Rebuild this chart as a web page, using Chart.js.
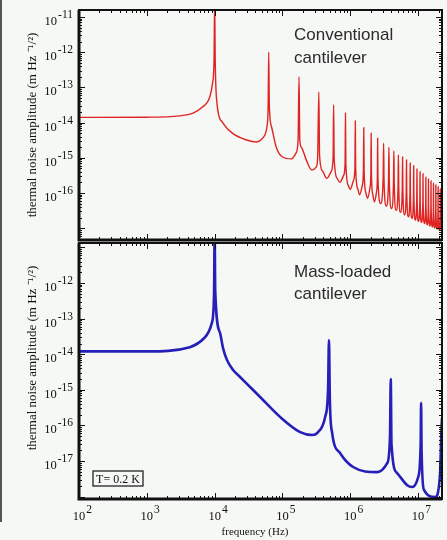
<!DOCTYPE html>
<html>
<head>
<meta charset="utf-8">
<script src="https://cdn.jsdelivr.net/npm/chart.js@4.4.1/dist/chart.umd.min.js"></script>
<style>
  body { margin: 0; background: #f5f8f4; width: 447px; height: 540px; overflow: hidden; position: relative; }
  canvas { position: absolute; left: 0; }
  #edge { position: absolute; left: 0; top: 0; width: 2px; height: 522px; background: #555; }
</style>
</head>
<body>
<div id="edge"></div>
<canvas id="topChart" width="447" height="250" style="top:0"></canvas>
<canvas id="bottomChart" width="447" height="307" style="top:233px"></canvas>
<script>
// decade tick values (labelled ones)
const freqDecades = [1e2, 1e3, 1e4, 1e5, 1e6, 1e7];
const topDecades = [1e-11, 1e-12, 1e-13, 1e-14, 1e-15, 1e-16];
const bottomDecades = [1e-12, 1e-13, 1e-14, 1e-15, 1e-16, 1e-17];

// conventional cantilever, [frequency Hz, amplitude]
const conventionalCurve = [
  [100, 1.40e-14], [1000, 1.42e-14], [3000, 1.55e-14], [4800, 1.86e-14], [6600, 2.75e-14],
  [8500, 5.4e-14], [9300, 1.3e-13], [9800, 6e-13], [10000, 3e-11], [10200, 6e-13],
  [10700, 4.4e-14], [13200, 9.8e-15], [18200, 5.0e-15], [29500, 3.2e-15], [41700, 2.8e-15],
  [51000, 3.6e-15], [59000, 7.6e-15], [61500, 3.0e-14], [62700, 1.0e-12], [64000, 3.0e-14],
  [69000, 7.6e-15], [81000, 2.0e-15], [100000, 1.05e-15], [135000, 9.3e-16], [158000, 1.35e-15],
  [170000, 3.2e-15], [175500, 2.0e-13], [180000, 3.2e-15], [190000, 2.0e-15],
  [224000, 8.7e-16], [270000, 4.5e-16], [316000, 5.5e-16], [330000, 1.05e-15], [344000, 7.4e-14], [352000, 1.2e-15],
  [390000, 4.2e-16], [450000, 2.6e-16], [520000, 4.0e-16], [558000, 1.0e-15], [568000, 3.2e-14], [578000, 1.0e-15],
  [640000, 2.6e-16], [700000, 2.0e-16], [800000, 3.2e-16], [838000, 7e-16], [849000, 1.86e-14], [860000, 7e-16],
  [940000, 1.6e-16], [1.0e6, 1.26e-16], [1.11e6, 2.2e-16], [1.17e6, 5e-16], [1.186e6, 1.12e-14], [1.2e6, 5e-16],
  [1.29e6, 1.3e-16], [1.37e6, 8.9e-17], [1.5e6, 1.6e-16], [1.56e6, 4e-16], [1.58e6, 7.1e-15], [1.6e6, 4e-16],
  [1.7e6, 1.0e-16], [1.8e6, 7.1e-17], [1.95e6, 1.4e-16], [2.01e6, 3.5e-16], [2.03e6, 5.0e-15], [2.05e6, 3.5e-16],
  [2.15e6, 9e-17], [2.27e6, 5.6e-17], [2.44e6, 1.1e-16], [2.51e6, 3e-16], [2.53e6, 3.6e-15], [2.555e6, 3e-16],
  [2.8e6, 5.0e-17], [3.05e6, 2.5e-16], [3.1e6, 2.6e-15], [3.14e6, 2.5e-16],
  [3.4e6, 4.2e-17], [3.66e6, 2.2e-16], [3.71e6, 2.0e-15], [3.76e6, 2.2e-16],
  [4.05e6, 3.6e-17], [4.33e6, 1.8e-16], [4.39e6, 1.55e-15], [4.45e6, 1.8e-16],
  [4.75e6, 3.2e-17], [5.06e6, 1.5e-16], [5.12e6, 1.2e-15], [5.18e6, 1.5e-16],
  [5.5e6, 2.8e-17], [5.84e6, 1.3e-16], [5.9e6, 1.05e-15], [5.96e6, 1.3e-16],
  [6.3e6, 2.4e-17], [6.68e6, 1.1e-16], [6.74e6, 8.7e-16], [6.8e6, 1.1e-16],
  [7.2e6, 2.1e-17], [7.58e6, 9.5e-17], [7.64e6, 7.1e-16], [7.7e6, 9.5e-17],
  [8.1e6, 1.9e-17], [8.54e6, 8e-17], [8.6e6, 5.9e-16], [8.66e6, 8e-17],
  [9.1e6, 1.7e-17], [9.55e6, 7e-17], [9.61e6, 4.8e-16], [9.67e6, 7e-17],
  [1.01e7, 1.55e-17], [1.061e7, 6e-17], [1.067e7, 4.0e-16], [1.073e7, 6e-17],
  [1.12e7, 1.45e-17], [1.174e7, 5.4e-17], [1.18e7, 3.5e-16], [1.186e7, 5.4e-17],
  [1.24e7, 1.35e-17], [1.294e7, 4.8e-17], [1.30e7, 2.8e-16], [1.306e7, 4.8e-17],
  [1.36e7, 1.25e-17], [1.414e7, 4.4e-17], [1.42e7, 2.5e-16], [1.426e7, 4.4e-17],
  [1.485e7, 1.15e-17], [1.544e7, 4e-17], [1.55e7, 2.2e-16], [1.556e7, 4e-17],
  [1.62e7, 1.07e-17], [1.679e7, 3.6e-17], [1.685e7, 1.9e-16], [1.691e7, 3.6e-17],
  [1.755e7, 1.0e-17], [1.819e7, 3.3e-17], [1.825e7, 1.7e-16], [1.831e7, 3.3e-17],
  [1.9e7, 9.5e-18], [1.964e7, 3.0e-17], [1.97e7, 1.5e-16], [1.976e7, 3.0e-17],
  [2.04e7, 9e-18], [2.114e7, 2.8e-17], [2.12e7, 1.3e-16], [2.126e7, 2.8e-17],
  [2.2e7, 8.5e-18], [2.26e7, 1.5e-17]
];

// mass-loaded cantilever
const massLoadedCurve = [
  [100, 1.2e-14], [1000, 1.2e-14], [4300, 1.58e-14], [7100, 2.9e-14], [9100, 7.6e-14],
  [9800, 5e-13], [10000, 3e-11], [10200, 6e-13], [12000, 4.0e-14], [13300, 1.48e-14],
  [15200, 6.9e-15], [18700, 3.6e-15], [23700, 2.3e-15], [33300, 1.2e-15], [46800, 6.3e-16],
  [92000, 1.74e-16], [182000, 6.5e-17], [275000, 5.4e-17],
  [327000, 6.2e-17], [426000, 1.74e-16], [470000, 1.0e-15], [485000, 2.5e-14], [500000, 5e-16],
  [540000, 6.2e-17], [710000, 1.66e-17], [1.1e6, 6.8e-18], [2.5e6, 4.9e-18], [3.5e6, 8.7e-18],
  [3.85e6, 5e-17], [3.95e6, 2.0e-15], [4.05e6, 3e-17], [4.9e6, 4.6e-18], [6.9e6, 2.1e-18],
  [8.15e6, 1.86e-18], [1.0e7, 3.5e-18], [1.09e7, 3e-17], [1.107e7, 4.3e-16], [1.125e7, 2e-17],
  [1.22e7, 1.55e-18], [1.78e7, 9.8e-19], [2.1e7, 4e-18], [2.2e7, 6e-17], [2.25e7, 1.6e-16]
];

const serif = "'Liberation Serif', 'Times New Roman', serif";

// inward minor/major ticks
function logMarks(min, max, cb)
{
	for (let d = Math.floor(Math.log10(min)); d <= Math.ceil(Math.log10(max)); d++)
		for (let k = 1; k <= 9; k++)
		{
			let v = k * Math.pow(10, d);
			if (v >= min && v <= max) cb(v, k === 1);
		}
}

// "10" with a raised exponent, placed at the scale's own tick pixels
function powLabels(ctx, scale, horizontal)
{
	ctx.fillStyle = '#111';
	ctx.textBaseline = 'alphabetic';
	ctx.textAlign = 'left';
	for (const t of scale.ticks)
	{
		let p = scale.getPixelForValue(t.value);
		let exp = String(Math.round(Math.log10(t.value)));
		ctx.font = '12.5px ' + serif;
		let w10 = ctx.measureText('10').width;
		ctx.font = '11.5px ' + serif;
		let we = ctx.measureText(exp).width;
		let x10, y10;
		if (horizontal) { x10 = p - w10 / 2; y10 = scale.top + 21; }
		else { x10 = scale.right - 6 - we - w10 - 1; y10 = p + 8; }
		ctx.font = '12.5px ' + serif;
		ctx.fillText('10', x10, y10);
		ctx.font = '11.5px ' + serif;
		ctx.fillText(exp, x10 + w10 + 1, y10 - 7);
	}
}

const framePlugin = {
	id: 'frame',
	afterDraw(chart, args, opts)
	{
		const {ctx, chartArea: a, scales: {x, y}} = chart;
		ctx.save();
		ctx.strokeStyle = '#111';
		ctx.lineWidth = 1;
		ctx.beginPath();
		logMarks(x.min, x.max, (v, major) => {
			let px = Math.round(x.getPixelForValue(v)) + 0.5, L = major ? 6 : 3;
			ctx.moveTo(px, a.bottom); ctx.lineTo(px, a.bottom - L);
			ctx.moveTo(px, a.top); ctx.lineTo(px, a.top + L);
		});
		logMarks(y.min, y.max, (v, major) => {
			let py = Math.round(y.getPixelForValue(v)) + 0.5, L = major ? 6 : 3;
			ctx.moveTo(a.left, py); ctx.lineTo(a.left + L, py);
			ctx.moveTo(a.right, py); ctx.lineTo(a.right - L, py);
		});
		ctx.stroke();

		ctx.lineWidth = 2;
		ctx.strokeRect(a.left, a.top, a.right - a.left, a.bottom - a.top);
		ctx.lineWidth = 3;
		ctx.beginPath();
		ctx.moveTo(a.left, a.top); ctx.lineTo(a.left, a.bottom); ctx.lineTo(a.right, a.bottom);
		ctx.stroke();

		powLabels(ctx, y, false);
		if (opts.xLabels) powLabels(ctx, x, true);

		ctx.fillStyle = '#2b2b2b';
		ctx.font = "17px 'Liberation Sans', Arial, sans-serif";
		ctx.textAlign = 'left';
		ctx.textBaseline = 'alphabetic';
		for (const n of opts.notes || [])
			ctx.fillText(n.text, n.x, n.y);

		if (opts.box)
		{
			const b = opts.box;
			ctx.lineWidth = 1.2;
			ctx.strokeRect(b.x, b.y, b.w, b.h);
			ctx.fillStyle = '#111';
			ctx.font = '12px ' + serif;
			ctx.textAlign = 'center';
			ctx.textBaseline = 'middle';
			ctx.fillText(b.text, b.x + b.w / 2, b.y + b.h / 2 + 1);
		}
		ctx.restore();
	}
};

function makeChart(id, curve, color, width, yMin, yMax, yTicks, bottomPanel, notes, box, yTitle)
{
	return new Chart(document.getElementById(id), {
		type: 'line',
		data: {
			datasets: [{
				data: curve.map(p => ({x: p[0], y: p[1]})),
				borderColor: color,
				borderWidth: width,
				pointRadius: 0,
				cubicInterpolationMode: 'monotone',
				fill: false
			}]
		},
		options: {
			responsive: false,
			animation: false,
			events: [],
			layout: {padding: {top: 10, right: 5, left: 0, bottom: 0}},
			plugins: {
				legend: {display: false},
				tooltip: {enabled: false},
				frame: {notes: notes, box: box, xLabels: bottomPanel}
			},
			scales: {
				x: {
					type: 'logarithmic',
					min: 100, max: 2.25e7,
					grid: {display: false, drawTicks: false},
					border: {display: false},
					afterBuildTicks: (s) => { s.ticks = freqDecades.map(v => ({value: v})); },
					afterFit: (s) => { s.height = bottomPanel ? 41 : 10; },
					ticks: {display: false, autoSkip: false},
					title: {
						display: bottomPanel,
						text: 'frequency (Hz)    ',
						color: '#111',
						font: {family: serif, size: 11},
						padding: {top: 0, bottom: 1}
					}
				},
				y: {
					type: 'logarithmic',
					min: yMin, max: yMax,
					grid: {display: false, drawTicks: false},
					border: {display: false},
					afterBuildTicks: (s) => { s.ticks = yTicks.map(v => ({value: v})); },
					afterFit: (s) => { s.width = 79; },
					ticks: {display: false, autoSkip: false},
					title: {
						display: true,
						text: yTitle,
						color: '#111',
						font: {family: serif, size: 13},
						padding: {top: 25, bottom: 0}
					}
				}
			}
		},
		plugins: [framePlugin]
	});
}

makeChart('topChart', conventionalCurve, '#e02424', 1.4, 4.6e-18, 1.58e-11, topDecades, false,
	[{text: 'Conventional', x: 294, y: 40}, {text: 'cantilever', x: 294, y: 63}], null,
	'thermal noise amplitude (m Hz \u207B\u00B9/\u00B2)');

makeChart('bottomChart', massLoadedCurve, '#2620b8', 2.6, 8.6e-19, 1.33e-11, bottomDecades, true,
	[{text: 'Mass-loaded', x: 294, y: 44}, {text: 'cantilever', x: 294, y: 66}],
	{x: 93, y: 238, w: 50, h: 15, text: 'T= 0.2 K'},
	'        thermal noise amplitude (m Hz \u207B\u00B9/\u00B2)');
</script>
</body>
</html>
